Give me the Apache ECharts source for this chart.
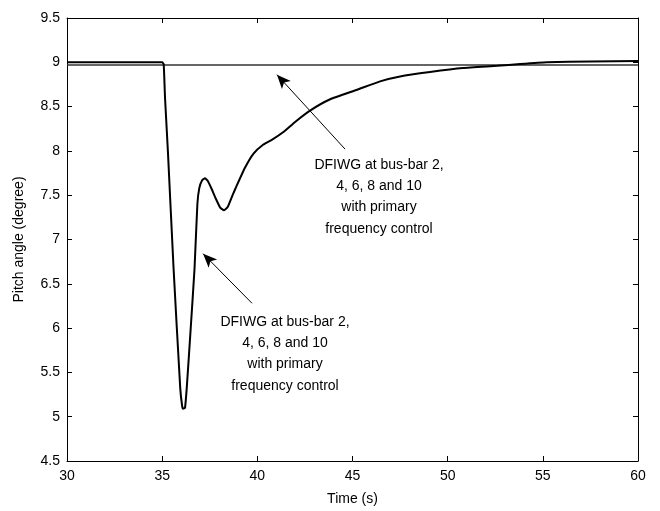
<!DOCTYPE html>
<html>
<head>
<meta charset="utf-8">
<script src="https://cdn.jsdelivr.net/npm/echarts@6/dist/echarts.min.js"></script>
<style>html,body{margin:0;padding:0;background:#fff;}#c{width:660px;height:511px;}</style>
</head>
<body>
<div id="c"></div>
<script>
// Data
var timeVals  = [30, 35, 35.08, 35.15, 35.3, 35.6, 35.95, 36.05, 36.1, 36.2, 36.3, 36.5, 36.7, 36.85, 36.95, 37.1, 37.25, 37.4, 37.6, 37.8, 38.05, 38.25, 38.45, 38.7, 38.9, 39.35, 39.8, 40.3, 40.8, 41.35, 42.0, 42.77, 43.8, 45.24, 46.45, 47.5, 49.07, 50.8, 52.6, 53.8, 55.2, 57.5, 60];
var pitchVals = [9.0, 9.0, 8.98, 8.6, 8.0, 6.67, 5.32, 5.12, 5.09, 5.1, 5.35, 6.0, 6.67, 7.4, 7.58, 7.67, 7.69, 7.66, 7.57, 7.47, 7.36, 7.33, 7.37, 7.5, 7.6, 7.81, 7.97, 8.07, 8.13, 8.21, 8.33, 8.455, 8.58, 8.69, 8.785, 8.84, 8.89, 8.935, 8.96, 8.98, 9.0, 9.01, 9.015];
var refTimes  = [30, 60];
var refVals   = [8.97, 8.97];
var xTicks = {min: 30, max: 60, step: 5};
var yTicks = {min: 4.5, max: 9.5, step: 0.5};
var annoText = ['DFIWG at bus-bar 2,', '4, 6, 8 and 10', 'with primary', 'frequency control'];
var arrow1 = [[41.03, 8.86], [44.61, 8.02]];
var arrow2 = [[37.15, 6.84], [39.72, 6.28]];

function pairs(xs, ys){ return xs.map(function(x,i){ return [x, ys[i]]; }); }

var chart = echarts.init(document.getElementById('c'), null, {renderer:'canvas'});
var font = 'Liberation Sans, Arial, sans-serif';
var axisCommon = {
  axisLine:{show:true, lineStyle:{color:'#000', width:1}},
  axisTick:{show:true, inside:true, length:5, lineStyle:{color:'#000'}},
  splitLine:{show:false}
};
function ax(base){ return Object.assign({}, axisCommon, base); }

function addText(cx, y0){
  return annoText.map(function(t,i){
    return {type:'text', x:cx, y:y0 + i*21.3,
      style:{text:t, fill:'#000', font:'14px ' + font, textAlign:'center', textVerticalAlign:'middle'}};
  });
}

chart.setOption({
  animation:false,
  backgroundColor:'#fff',
  grid:{left:67, right:22, top:18, bottom:48, containLabel:false},
  xAxis:[
    ax({type:'value', min:xTicks.min, max:xTicks.max, interval:xTicks.step, position:'bottom',
      name:'Time (s)', nameLocation:'middle', nameGap:31,
      nameTextStyle:{fontFamily:font, fontSize:14, color:'#000'},
      axisLabel:{fontFamily:font, fontSize:14, color:'#000', margin:8}}),
    ax({type:'value', min:xTicks.min, max:xTicks.max, interval:xTicks.step, position:'top',
      axisLabel:{show:false}})
  ],
  yAxis:[
    ax({type:'value', min:yTicks.min, max:yTicks.max, interval:yTicks.step, position:'left',
      name:'Pitch angle (degree)', nameLocation:'middle', nameGap:41,
      nameTextStyle:{fontFamily:font, fontSize:14, color:'#000'},
      axisLabel:{fontFamily:font, fontSize:14, color:'#000', margin:7}}),
    ax({type:'value', min:yTicks.min, max:yTicks.max, interval:yTicks.step, position:'right',
      axisLabel:{show:false}})
  ],
  series:[
    {type:'line', data:pairs(refTimes, refVals), symbol:'none',
      lineStyle:{color:'#333', width:1.5}, z:2},
    {type:'line', data:pairs(timeVals, pitchVals), symbol:'none', smooth:0.15,
      lineStyle:{color:'#000', width:2}, z:3,
      markLine:{silent:true, symbol:['arrow','none'], symbolSize:[9,14],
        label:{show:false},
        lineStyle:{color:'#000', width:1, type:'solid'},
        data:[
          [{coord:arrow1[0]}, {coord:arrow1[1]}],
          [{coord:arrow2[0]}, {coord:arrow2[1]}]
        ]}}
  ],
  graphic: addText(379, 165).concat(addText(285, 322))
});
</script>
</body>
</html>
